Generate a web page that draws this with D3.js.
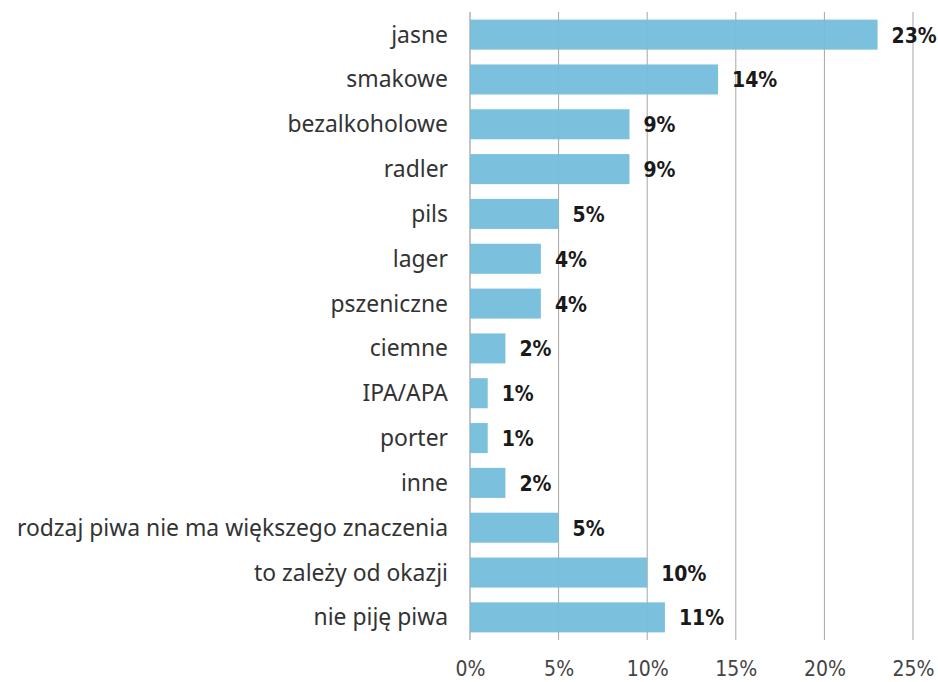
<!DOCTYPE html>
<html>
<head>
<meta charset="utf-8">
<script src="https://cdn.jsdelivr.net/npm/d3@7"></script>
<style>
  body { margin: 0; background: #fff; }
  .cat { font-family: "Noto Sans", Roboto, sans-serif; font-size: 22.9px; fill: #333; }
  .val { font-family: "DejaVu Sans Condensed", sans-serif; font-size: 21px; fill: #1a1a1a; font-weight: bold; }
  .tick text { font-family: "DejaVu Sans Condensed", sans-serif; font-size: 21px; fill: #444; }
</style>
</head>
<body>
<div class="chart"></div>
<script>
// data
var categories = ["jasne", "smakowe", "bezalkoholowe", "radler", "pils", "lager", "pszeniczne",
  "ciemne", "IPA/APA", "porter", "inne", "rodzaj piwa nie ma większego znaczenia",
  "to zależy od okazji", "nie piję piwa"];
var shares = [23, 14, 9, 9, 5, 4, 4, 2, 1, 1, 2, 5, 10, 11];
var ticks = [0, 5, 10, 15, 20, 25];

var width = 938, height = 682;
var margin = {top: 12, right: 25, bottom: 42, left: 470};

var svg = d3.select(".chart").append("svg")
    .attr("width", width)
    .attr("height", height);

var x = d3.scaleLinear()
    .domain([0, 25])
    .range([margin.left, width - margin.right]);

var y = d3.scaleBand()
    .domain(categories)
    .range([margin.top, height - margin.bottom])
    .paddingInner(0.33)
    .paddingOuter(0.17);

// gridlines
svg.append("g")
    .selectAll("line")
    .data(ticks)
  .enter().append("line")
    .attr("x1", function(d) { return x(d); })
    .attr("x2", function(d) { return x(d); })
    .attr("y1", margin.top)
    .attr("y2", height - margin.bottom)
    .attr("stroke", function(d) { return d === 0 ? "#8a8a8a" : "#a5a5a5"; })
    .attr("stroke-width", 1);

// bars
svg.selectAll(".bar")
    .data(shares)
  .enter().append("rect")
    .attr("class", "bar")
    .attr("x", x(0))
    .attr("y", function(d, i) { return y(categories[i]); })
    .attr("width", function(d) { return x(d) - x(0); })
    .attr("height", y.bandwidth())
    .attr("fill", "#74bedb")
    .attr("fill-opacity", 0.95);

// value labels
svg.selectAll(".val")
    .data(shares)
  .enter().append("text")
    .attr("class", "val")
    .attr("x", function(d) { return x(d) + 14; })
    .attr("y", function(d, i) { return y(categories[i]) + y.bandwidth() / 2; })
    .attr("dy", "0.38em")
    .text(function(d) { return d + "%"; });

// category labels
svg.selectAll(".cat")
    .data(categories)
  .enter().append("text")
    .attr("class", "cat")
    .attr("x", margin.left - 22)
    .attr("y", function(d) { return y(d) + y.bandwidth() / 2; })
    .attr("dy", "0.35em")
    .attr("text-anchor", "end")
    .text(function(d) { return d; });

// x axis
var xAxis = svg.append("g")
    .attr("transform", "translate(0," + (height - margin.bottom) + ")")
    .call(d3.axisBottom(x).tickValues(ticks).tickSize(0).tickPadding(21)
      .tickFormat(function(d) { return d + "%"; }));
xAxis.select(".domain").remove();
</script>
</body>
</html>
